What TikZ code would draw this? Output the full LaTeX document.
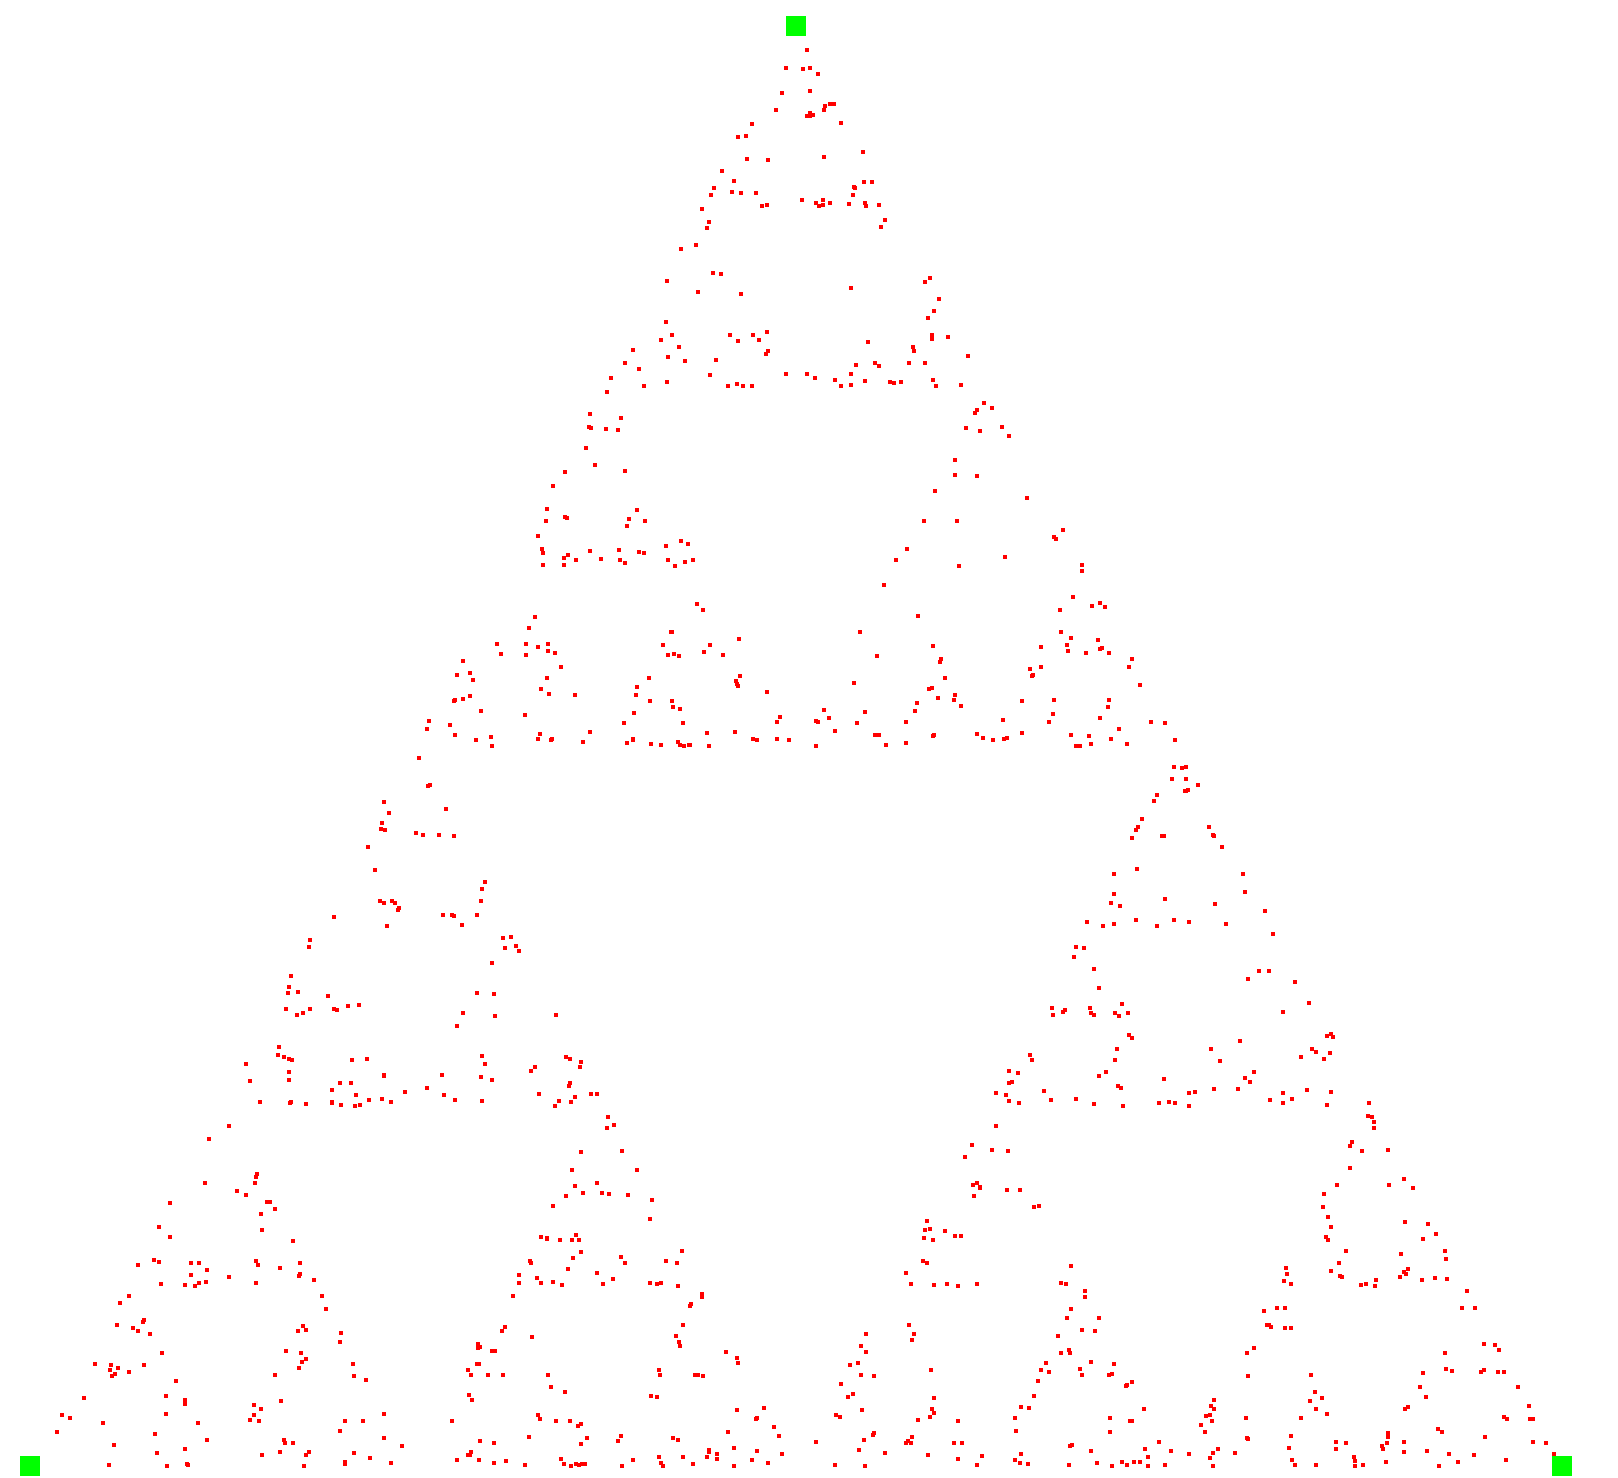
\documentclass[tikz,border=0pt]{standalone}
\usetikzlibrary{positioning}
\tikzset{%
  vertex/.style = {shape=rectangle, fill=green, inner sep=0pt,%
                   minimum size=10pt},%
  dot/.style    = {fill=red}%
}
\begin{document}
\begin{tikzpicture}[x=0.5pt, y=-0.5pt]
  \useasboundingbox (0,0) rectangle (1618,1478);
  \node [vertex] (top)   at (796,26)    {};
  \node [vertex] (left)  at (30,1466)   {};
  \node [vertex] (right) at (1562,1466) {};
  % chaos game
  \pgfmathsetseed{2718}
  \xdef\px{796}\xdef\py{986}
  \foreach \i in {1,...,1110}{
    \pgfmathrandominteger{\k}{1}{3}
    \ifcase\k\or\def\vx{796}\def\vy{26}%
    \or\def\vx{30}\def\vy{1466}%
    \or\def\vx{1562}\def\vy{1466}\fi
    \pgfmathsetmacro\nx{(\px+\vx)/2}
    \pgfmathsetmacro\ny{(\py+\vy)/2}
    \xdef\px{\nx}\xdef\py{\ny}
    \ifnum\i>10 \fill[dot] (\px-2,\py-2) rectangle ++(4,4);\fi
  }
\end{tikzpicture}
\end{document}
